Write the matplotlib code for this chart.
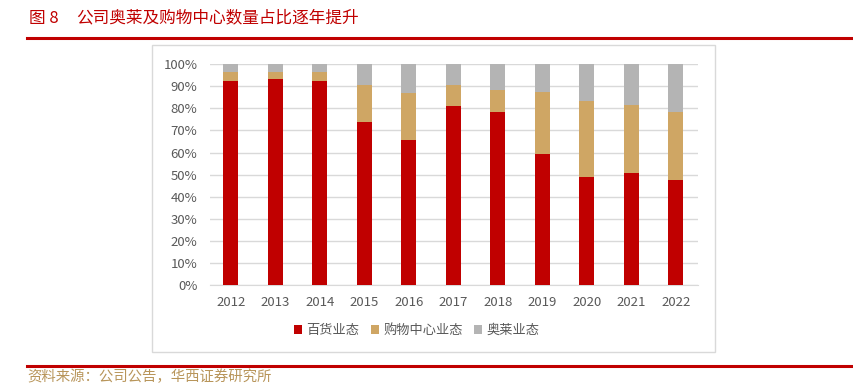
import numpy as np
import matplotlib.pyplot as plt
from matplotlib.patches import Rectangle
from matplotlib.lines import Line2D

plt.rcParams['font.family'] = ['Noto Sans CJK SC', 'DejaVu Sans']

years = ["2012", "2013", "2014", "2015", "2016", "2017", "2018", "2019", "2020", "2021", "2022"]
# share of stores (%) by format
dept_store = [92.5, 93.1, 92.5, 73.9, 65.7, 80.9, 78.3, 59.2, 48.8, 50.9, 47.7]
mall = [3.9, 3.3, 3.9, 16.6, 21.0, 9.6, 10.0, 28.0, 34.5, 30.4, 30.8]
outlet = [3.6, 3.6, 3.6, 9.5, 13.3, 9.5, 11.7, 12.8, 16.7, 18.7, 21.5]
series_names = ["百货业态", "购物中心业态", "奥莱业态"]
colors = ["#C00000", "#CFA664", "#B4B4B4"]

W, H = 854, 384
fig = plt.figure(figsize=(W / 100, H / 100), dpi=100)

# title and rules
fig.text(29 / W, 1 - 18 / H, "图 8", color="#C00000", fontsize=12, va="center", ha="left")
fig.text(76 / W, 1 - 18 / H, "公司奥莱及购物中心数量占比逐年提升", color="#C00000",
         fontsize=12, va="center", ha="left")
fig.add_artist(Line2D([27 / W, 1], [1 - 38 / H] * 2, color="#C00000", lw=2.2))
fig.add_artist(Line2D([27 / W, 1], [1 - 366 / H] * 2, color="#C00000", lw=2.2))
fig.text(27 / W, 1 - 377 / H, "资料来源：公司公告，华西证券研究所", color="#B8955A",
         fontsize=10.4, va="center", ha="left")

# chart frame
fig.add_artist(Rectangle((152 / W, 1 - 352 / H), (715 - 152) / W, (352 - 45) / H,
                         transform=fig.transFigure, fill=False, edgecolor="#D9D9D9", lw=1))

ax = fig.add_axes([210 / W, 1 - 285.3 / H, 488 / W, (285.3 - 64) / H])
x = np.arange(len(years))
bw = 0.34
bottom = np.zeros(len(years))
for vals, name, c in zip([dept_store, mall, outlet], series_names, colors):
    ax.bar(x, vals, bw, bottom=bottom, color=c, label=name, zorder=3)
    bottom += np.array(vals)

ax.set_xlim(-0.47, 10.5)
ax.set_ylim(0, 100)
ax.set_yticks(np.arange(0, 101, 10))
ax.set_yticklabels([f"{v}%" for v in range(0, 101, 10)])
ax.set_xticks(x)
ax.set_xticklabels(years)
ax.yaxis.grid(True, color="#D9D9D9", lw=1, zorder=0)
for s in ["top", "right", "left"]:
    ax.spines[s].set_visible(False)
ax.spines["bottom"].set_color("#D9D9D9")
ax.tick_params(axis="both", length=0, colors="#595959", labelsize=9.5)
ax.tick_params(axis="x", pad=8)
ax.tick_params(axis="y", pad=9)

leg = ax.legend(loc="center", bbox_to_anchor=(0.424, -0.205), ncol=3, frameon=False,
                fontsize=9.5, handlelength=0.6, handleheight=0.6, handletextpad=0.3,
                columnspacing=0.9)
for t in leg.get_texts():
    t.set_color("#595959")

fig.savefig("out.png", dpi=100)
